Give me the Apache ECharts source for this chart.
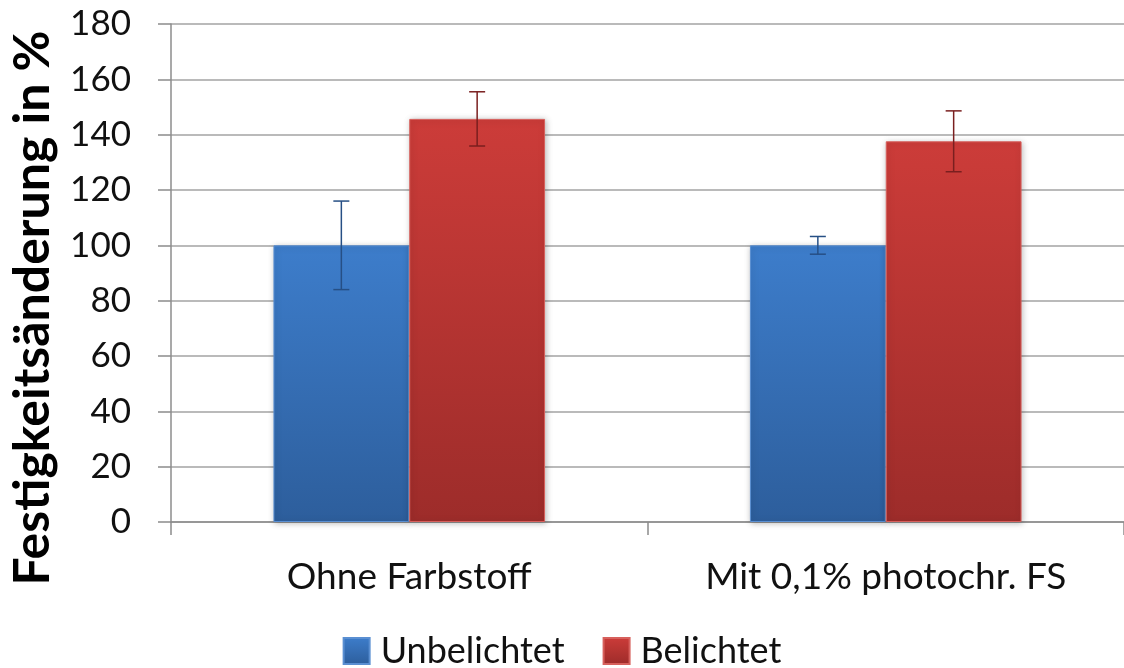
<!DOCTYPE html>
<html>
<head>
<meta charset="utf-8">
<script src="https://cdn.jsdelivr.net/npm/echarts@6/dist/echarts.min.js"></script>
<style>html,body{margin:0;padding:0;background:#fff;}#c{width:1124px;height:668px;}</style>
</head>
<body>
<div id="c"></div>
<script>
const categories = ['Ohne Farbstoff', 'Mit 0,1% photochr. FS'];
const seriesNames = ['Unbelichtet', 'Belichtet'];
const unbelichtet = [100, 100];
const belichtet = [145.7, 137.6];
const errUnbelichtet = [16, 3.2];
const errBelichtet = [9.8, 11];
const yTicks = [0, 180, 20];

const chart = echarts.init(document.getElementById('c'));
const FONT = 'Lato, "Open Sans", sans-serif';

function grad(top, bottom) {
  return new echarts.graphic.LinearGradient(0, 0, 0, 1, [
    {offset: 0, color: top}, {offset: 1, color: bottom}
  ]);
}
const blueFill = grad('#3d7dcb', '#2d5e9c');
const redFill = grad('#cc3c39', '#9d2c2a');

function errSeries(values, errs, seriesIndex, color) {
  return {
    type: 'custom',
    name: seriesNames[seriesIndex] + ' err',
    z: 10,
    silent: true,
    data: values.map((v, i) => [i, v - errs[i], v + errs[i]]),
    renderItem: function (params, api) {
      const idx = api.value(0);
      const lo = api.coord([idx, api.value(1)]);
      const hi = api.coord([idx, api.value(2)]);
      const bw = api.size([1, 0])[0];
      const barW = bw * 0.57 / 2;
      const offset = (seriesIndex === 0 ? -0.5 : 0.5) * barW;
      const x = lo[0] + offset;
      const cap = 8;
      const st = {stroke: color, lineWidth: 1.5};
      return {
        type: 'group',
        children: [
          {type: 'line', shape: {x1: x, y1: lo[1], x2: x, y2: hi[1]}, style: st},
          {type: 'line', shape: {x1: x - cap, y1: lo[1], x2: x + cap, y2: lo[1]}, style: st},
          {type: 'line', shape: {x1: x - cap, y1: hi[1], x2: x + cap, y2: hi[1]}, style: st}
        ]
      };
    }
  };
}

chart.setOption({
  animation: false,
  backgroundColor: '#fff',
  grid: {left: 171, right: 0, top: 24, bottom: 146, containLabel: false},
  legend: {
    data: [
      {name: seriesNames[0], itemStyle: {color: blueFill}},
      {name: seriesNames[1], itemStyle: {color: redFill}}
    ],
    bottom: -6,
    left: 'center',
    icon: 'rect',
    itemWidth: 26,
    itemHeight: 26,
    itemGap: 38,
    textStyle: {fontFamily: FONT, fontSize: 36, color: '#111', padding: [0, 0, 0, 6]}
  },
  xAxis: {
    type: 'category',
    data: categories,
    axisLine: {lineStyle: {color: '#8c8c8c', width: 1.5}},
    axisTick: {show: true, length: 13, lineStyle: {color: '#8c8c8c', width: 1.5}},
    axisLabel: {fontFamily: FONT, fontSize: 37, color: '#111', margin: 37}
  },
  yAxis: {
    type: 'value',
    min: yTicks[0], max: yTicks[1], interval: yTicks[2],
    axisLine: {show: true, lineStyle: {color: '#8c8c8c', width: 1.5}},
    axisTick: {show: true, length: 13, inside: false, lineStyle: {color: '#8c8c8c', width: 1.5}},
    axisLabel: {fontFamily: FONT, fontSize: 35, color: '#111', margin: 40},
    splitLine: {lineStyle: {color: '#a3a3a3', width: 1.5}}
  },
  graphic: [{
    type: 'text',
    x: 33, y: 308,
    rotation: Math.PI / 2,
    style: {
      text: 'Festigkeitsänderung in %',
      font: 'bold 50px ' + FONT,
      fill: '#000',
      align: 'center',
      verticalAlign: 'middle'
    }
  }],
  series: [
    {
      name: seriesNames[0], type: 'bar', data: unbelichtet,
      barGap: '0%', barCategoryGap: '43%',
      itemStyle: {color: blueFill, borderColor: '#5a8fd2', borderWidth: 1,
        shadowColor: 'rgba(0,0,0,0.25)', shadowBlur: 6, shadowOffsetX: 1, shadowOffsetY: 1}
    },
    {
      name: seriesNames[1], type: 'bar', data: belichtet,
      itemStyle: {color: redFill, borderColor: '#d7605c', borderWidth: 1,
        shadowColor: 'rgba(0,0,0,0.25)', shadowBlur: 6, shadowOffsetX: 1, shadowOffsetY: 1}
    },
    errSeries(unbelichtet, errUnbelichtet, 0, '#264f85'),
    errSeries(belichtet, errBelichtet, 1, '#7a1f1f')
  ]
});
</script>
</body>
</html>
